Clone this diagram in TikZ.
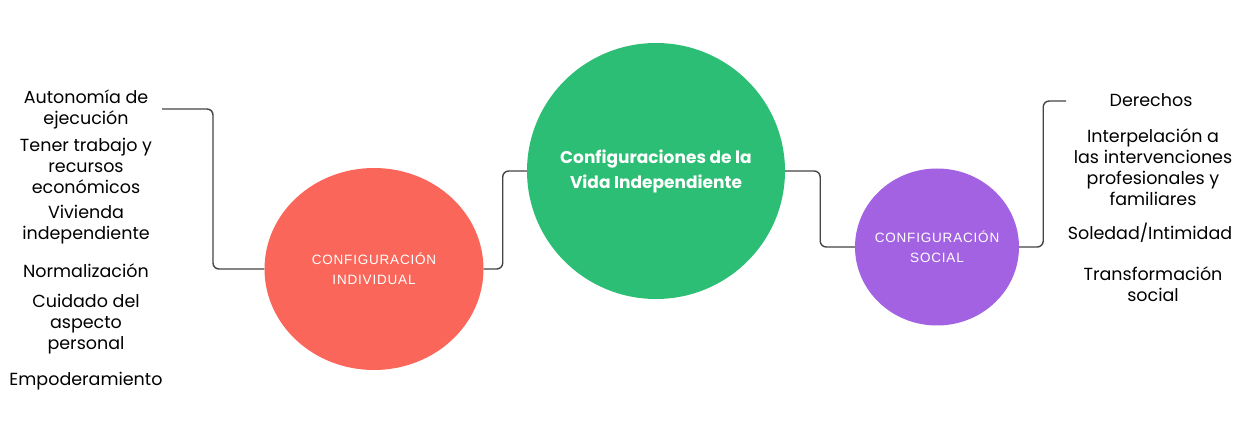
\documentclass[tikz,border=0pt]{standalone}
\usepackage{fontspec}
\setmainfont{Poppins}
\newfontfamily\capsfont[LetterSpace=6]{Liberation Sans}
\usepackage{tikz}
\usetikzlibrary{positioning,shapes.geometric}
\definecolor{vidagreen}{HTML}{2CBE74}
\definecolor{indivred}{HTML}{FA6659}
\definecolor{socialpurple}{HTML}{A262E2}
\definecolor{linegray}{HTML}{444444}
\tikzset{
	conn/.style={draw=linegray, line width=1.4pt, rounded corners=6pt},
	item/.style={align=center, font=\fontsize{17.5}{21}\selectfont, inner sep=0pt},
	bubble/.style={ellipse, inner sep=0pt},
	bubbletext/.style={text=white, align=center, inner sep=0pt},
	subtext/.style={bubbletext, font=\capsfont\fontsize{13.5}{20}\selectfont},
}

\begin{document}
\begin{tikzpicture}[x=1pt,y=-1pt]
      \useasboundingbox (0,0) rectangle (1244,443);
      % circles
      \node[bubble, fill=vidagreen, minimum width=258, minimum height=256,
            label={[bubbletext, font=\bfseries\fontsize{17}{25}\selectfont]center:Configuraciones de la\\ Vida Independiente}]
            (vida) at (656,171) {};
      \node[bubble, fill=indivred, minimum width=219, minimum height=202,
            label={[subtext]center:CONFIGURACIÓN\\INDIVIDUAL}] (indiv) at (374,269) {};
      \node[bubble, fill=socialpurple, minimum width=164, minimum height=157,
            label={[subtext]center:CONFIGURACIÓN\\SOCIAL}] (social) at (937,247) {};

      % left items
      \node[item] (autonomia) at (86,109) {Autonomía de\\ejecución};
      \node[item] (trabajo) at (86,166) {Tener trabajo y\\recursos\\económicos};
      \node[item] (vivienda) at (86,224.5) {Vivienda\\independiente};
      \node[item] (normal) at (86,271) {Normalización};
      \node[item] (cuidado) at (86,324.5) {Cuidado del\\aspecto\\personal};
      \node[item] (empoder) at (86,381) {Empoderamiento};

      % right items
      \node[item] (derechos) at (1151,100) {Derechos};
      \node[item] (interpel) at (1153,167.5) {Interpelación a\\las intervenciones\\profesionales y\\familiares};
      \node[item] (soledad) at (1150,233) {Soledad/Intimidad};
      \node[item] (transf) at (1153,284.5) {Transformación\\social};

      \coordinate (lefttop) at (162,109);
      \coordinate (righttop) at (1066,101);

      \draw[conn] (lefttop) -- ++(51,0) |- (indiv.west);
      \draw[conn] (indiv.east) -- ++(19,0) |- (vida.west);
      \draw[conn] (vida.east) -- ++(35,0) |- (social.west);
      \draw[conn] (social.east) -- ++(24,0) |- (righttop);
\end{tikzpicture}
\end{document}
